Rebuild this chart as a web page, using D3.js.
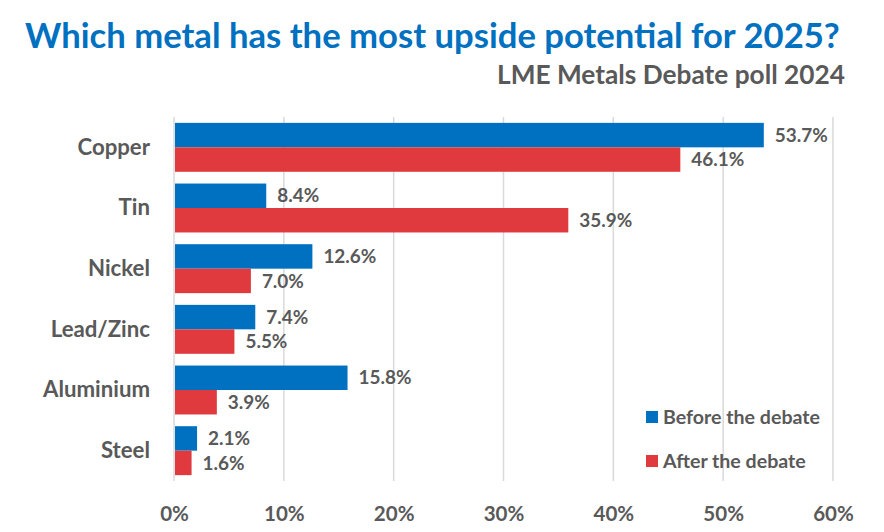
<!DOCTYPE html>
<html>
<head>
<meta charset="utf-8">
<script src="https://cdn.jsdelivr.net/npm/d3@7"></script>
<style>
  html, body { margin: 0; padding: 0; background: #fff; }
  svg { display: block; }
  text { font-family: Lato, "Open Sans", sans-serif; font-weight: 700; }
</style>
</head>
<body>
<svg id="chart" width="884" height="532"></svg>
<script>
const categories = ["Copper", "Tin", "Nickel", "Lead/Zinc", "Aluminium", "Steel"];
const seriesNames = ["Before the debate", "After the debate"];
const beforeValues = [53.7, 8.4, 12.6, 7.4, 15.8, 2.1];
const afterValues = [46.1, 35.9, 7.0, 5.5, 3.9, 1.6];
const xTicks = [0, 10, 20, 30, 40, 50, 60];
const titleText = "Which metal has the most upside potential for 2025?";
const subtitleText = "LME Metals Debate poll 2024";

const colors = { "Before the debate": "#0070C0", "After the debate": "#E03A3E" };
const textGray = "#595959";

const svg = d3.select("#chart");

// helper: font size that gives a target width for a given string
function fitSize(str, targetWidth) {
  const t = svg.append("text").attr("font-size", 100).text(str);
  const w = t.node().getComputedTextLength();
  t.remove();
  return 100 * targetWidth / w;
}

const data = categories.map((c, i) => ({
  category: c,
  values: [
    { series: seriesNames[0], value: beforeValues[i] },
    { series: seriesNames[1], value: afterValues[i] }
  ]
}));

const x = d3.scaleLinear().domain([0, 60]).range([174, 833]);
const y = d3.scaleBand().domain(categories).range([117, 481]).padding(0);
const ySub = d3.scaleBand().domain(seriesNames).range([0, y.bandwidth()]).paddingInner(0).paddingOuter(0.24);

// gridlines
svg.append("g").selectAll("line").data(xTicks).join("line")
  .attr("x1", d => x(d)).attr("x2", d => x(d))
  .attr("y1", 117).attr("y2", 481)
  .attr("stroke", "#d9d9d9").attr("stroke-width", 1.5);

// x axis labels
const tickSize = fitSize("10%", 40.7);
const xAxis = d3.axisBottom(x).tickValues(xTicks).tickFormat(d => d + "%").tickSize(0).tickPadding(0);
const gx = svg.append("g").attr("transform", "translate(0,521)").call(xAxis);
gx.select(".domain").remove();
gx.selectAll("text")
  .attr("y", 0).attr("dy", 0)
  .attr("fill", textGray)
  .attr("font-size", tickSize)
  .style("font-family", "Lato, 'Open Sans', sans-serif").style("font-weight", 700);

// category labels
const catSize = fitSize("Copper", 72.6);
const yAxis = d3.axisLeft(y).tickSize(0).tickPadding(0);
const gy = svg.append("g").attr("transform", "translate(150,0)").call(yAxis);
gy.select(".domain").remove();
gy.selectAll("text")
  .attr("x", 0).attr("dy", "0.33em")
  .attr("fill", textGray)
  .attr("font-size", catSize)
  .style("font-family", "Lato, 'Open Sans', sans-serif").style("font-weight", 700);

// bars
const groups = svg.append("g").selectAll("g").data(data).join("g")
  .attr("transform", d => `translate(0,${y(d.category)})`);

groups.selectAll("rect").data(d => d.values).join("rect")
  .attr("x", x(0) + 1)
  .attr("y", d => ySub(d.series))
  .attr("width", d => x(d.value) - x(0) - 1)
  .attr("height", ySub.bandwidth())
  .attr("fill", d => colors[d.series]);

// value labels
const valSize = fitSize("53.7%", 53);
groups.selectAll("text.val").data(d => d.values).join("text")
  .attr("class", "val")
  .attr("x", d => x(d.value) + 11)
  .attr("y", d => ySub(d.series) + ySub.bandwidth() / 2)
  .attr("dy", "0.35em")
  .attr("fill", textGray)
  .attr("font-size", valSize)
  .text(d => d.value.toFixed(1) + "%");

// legend
const legSize = fitSize("Before the debate", 157);
const legend = svg.append("g").selectAll("g").data(seriesNames).join("g")
  .attr("transform", (d, i) => `translate(646,${411 + i * 44})`);
legend.append("rect").attr("width", 12).attr("height", 12).attr("fill", d => colors[d]);
legend.append("text").attr("x", 17).attr("y", 6).attr("dy", "0.35em")
  .attr("fill", textGray).attr("font-size", legSize).text(d => d);

// title & subtitle
const titleSize = fitSize(titleText, 815);
svg.append("text").attr("x", 25).attr("y", 48)
  .attr("fill", "#0070C0").attr("font-size", titleSize).text(titleText);
const subSize = fitSize(subtitleText, 348);
svg.append("text").attr("x", 845).attr("y", 84).attr("text-anchor", "end")
  .attr("fill", textGray).attr("font-size", subSize).text(subtitleText);
</script>
</body>
</html>
